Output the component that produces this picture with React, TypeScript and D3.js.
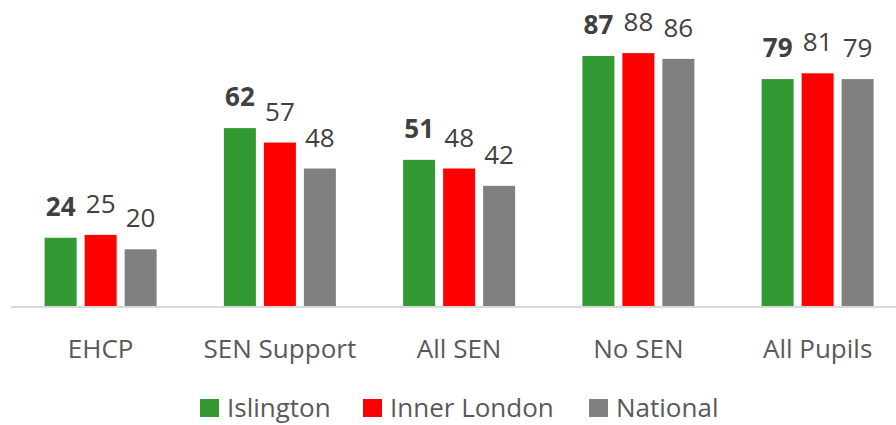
import { useEffect, useRef } from 'react';
import * as d3 from 'd3';

const categories = ['EHCP', 'SEN Support', 'All SEN', 'No SEN', 'All Pupils'];
const seriesNames = ['Islington', 'Inner London', 'National'];
const islington = [24, 62, 51, 87, 79];
const innerLondon = [25, 57, 48, 88, 81];
const national = [20, 48, 42, 86, 79];
const colors = ['#339933', '#FF0000', '#808080'];

function App() {
  const svgRef = useRef<SVGSVGElement>(null);

  useEffect(() => {
    const width = 896;
    const height = 425;
    const baseY = 307;

    const svg = d3.select(svgRef.current);
    svg.selectAll('*').remove();
    svg.attr('width', width).attr('height', height);

    const values = [islington, innerLondon, national];

    // outer scale per category, inner per series
    const x = d3.scaleBand().domain(categories).range([11, 907.25]).padding(0);
    const xInner = d3.scaleBand().domain(seriesNames).range([-60, 60]).paddingInner(0.2).paddingOuter(0.1);
    const y = d3.scaleLinear().domain([0, 100]).range([baseY, 18.5]);

    const groups = svg.selectAll('g.cat')
      .data(categories)
      .enter()
      .append('g')
      .attr('class', 'cat')
      .attr('transform', d => `translate(${(x(d) ?? 0) + x.bandwidth() / 2},0)`);

    seriesNames.forEach((s, si) => {
      groups.append('rect')
        .attr('x', xInner(s) ?? 0)
        .attr('width', xInner.bandwidth())
        .attr('y', (d, i) => y(values[si][i]))
        .attr('height', (d, i) => baseY - y(values[si][i]))
        .attr('fill', colors[si]);

      groups.append('text')
        .attr('x', (xInner(s) ?? 0) + xInner.bandwidth() / 2)
        .attr('y', (d, i) => y(values[si][i]) - 22)
        .attr('text-anchor', 'middle')
        .attr('font-family', 'Open Sans')
        .attr('font-size', 26)
        .attr('font-weight', si === 0 ? 'bold' : 'normal')
        .attr('fill', '#404040')
        .text((d, i) => values[si][i]);
    });

    // axis line
    svg.append('line')
      .attr('x1', 11).attr('x2', width)
      .attr('y1', baseY).attr('y2', baseY)
      .attr('stroke', '#D9D9D9')
      .attr('stroke-width', 2);

    groups.append('text')
      .attr('x', 0)
      .attr('y', 358)
      .attr('text-anchor', 'middle')
      .attr('font-family', 'Open Sans')
      .attr('font-size', 26)
      .attr('fill', '#595959')
      .text(d => d);

    // legend
    const legendX = [200, 363, 589];
    const legend = svg.selectAll('g.legend')
      .data(seriesNames)
      .enter()
      .append('g')
      .attr('class', 'legend')
      .attr('transform', (d, i) => `translate(${legendX[i]},399)`);
    legend.append('rect')
      .attr('width', 19).attr('height', 18)
      .attr('fill', (d, i) => colors[i]);
    legend.append('text')
      .attr('x', 27)
      .attr('y', 18)
      .attr('font-family', 'Open Sans')
      .attr('font-size', 26)
      .attr('fill', '#595959')
      .text(d => d);
  }, []);

  return (
    <div>
      <svg ref={svgRef} style={{ position: 'absolute', left: 0, top: 0 }}></svg>
    </div>
  );
}

export default App;
